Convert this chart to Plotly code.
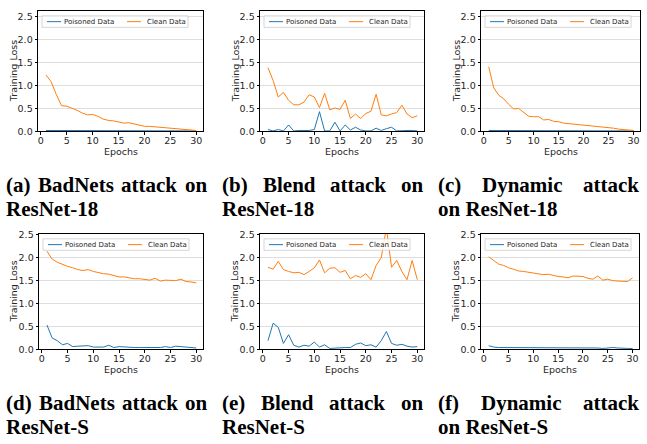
import plotly.graph_objects as go

# ---------------- data ----------------
epochs = list(range(1, 31))

poisoned_a = [0.02, 0.02, 0.01, 0.01, 0.01, 0.01, 0.01, 0.01, 0.01, 0.01, 0.01, 0.01, 0.01, 0.01, 0.01,
              0.01, 0.01, 0.01, 0.01, 0.01, 0.01, 0.01, 0.01, 0.01, 0.01, 0.01, 0.01, 0.01, 0.01, 0.01]
clean_a = [1.23, 1.08, 0.80, 0.56, 0.55, 0.51, 0.46, 0.40, 0.36, 0.37, 0.33, 0.27, 0.24, 0.23, 0.21,
           0.18, 0.19, 0.16, 0.14, 0.11, 0.11, 0.10, 0.09, 0.07, 0.06, 0.05, 0.04, 0.04, 0.03, 0.02]

poisoned_b = [0.04, 0.01, 0.04, 0.01, 0.14, 0.01, 0.02, 0.02, 0.02, 0.04, 0.43, 0.01, 0.01, 0.20, 0.01,
              0.14, 0.03, 0.09, 0.03, 0.01, 0.01, 0.07, 0.02, 0.06, 0.09, 0.01, 0.02, 0.02, 0.02, 0.01]
clean_b = [1.39, 1.11, 0.75, 0.85, 0.68, 0.58, 0.58, 0.64, 0.80, 0.75, 0.52, 0.83, 0.47, 0.51, 0.48,
           0.68, 0.28, 0.38, 0.28, 0.39, 0.44, 0.81, 0.36, 0.34, 0.38, 0.41, 0.57, 0.38, 0.30, 0.34]

poisoned_c = [0.02, 0.02, 0.02, 0.02, 0.02, 0.02, 0.01, 0.01, 0.01, 0.02, 0.02, 0.01, 0.01, 0.01, 0.01,
              0.01, 0.01, 0.01, 0.01, 0.01, 0.01, 0.01, 0.01, 0.01, 0.01, 0.01, 0.01, 0.01, 0.01, 0.01]
clean_c = [1.41, 0.95, 0.79, 0.71, 0.59, 0.49, 0.50, 0.42, 0.33, 0.32, 0.32, 0.25, 0.26, 0.22, 0.21,
           0.18, 0.17, 0.16, 0.15, 0.13, 0.12, 0.11, 0.10, 0.09, 0.08, 0.07, 0.05, 0.04, 0.03, 0.02]

poisoned_d = [0.53, 0.25, 0.19, 0.10, 0.13, 0.06, 0.07, 0.07, 0.08, 0.05, 0.05, 0.05, 0.09, 0.04, 0.06,
              0.05, 0.04, 0.04, 0.04, 0.04, 0.04, 0.04, 0.04, 0.06, 0.04, 0.07, 0.06, 0.05, 0.04, 0.03]
clean_d = [2.14, 1.97, 1.90, 1.85, 1.81, 1.78, 1.74, 1.72, 1.74, 1.70, 1.67, 1.65, 1.64, 1.61, 1.58,
           1.58, 1.56, 1.54, 1.54, 1.53, 1.51, 1.55, 1.49, 1.51, 1.51, 1.50, 1.53, 1.48, 1.47, 1.45]

poisoned_e = [0.19, 0.57, 0.48, 0.13, 0.32, 0.09, 0.05, 0.09, 0.07, 0.16, 0.05, 0.10, 0.02, 0.03, 0.04,
              0.04, 0.04, 0.11, 0.14, 0.08, 0.10, 0.05, 0.19, 0.39, 0.13, 0.09, 0.11, 0.07, 0.05, 0.06]
clean_e = [1.79, 1.75, 1.92, 1.74, 1.70, 1.67, 1.68, 1.63, 1.70, 1.78, 1.95, 1.67, 1.77, 1.78, 1.68,
           1.72, 1.54, 1.61, 1.57, 1.65, 1.52, 1.83, 2.00, 2.65, 1.79, 1.94, 1.70, 1.52, 1.94, 1.52]

poisoned_f = [0.08, 0.05, 0.04, 0.04, 0.04, 0.04, 0.03, 0.04, 0.03, 0.04, 0.04, 0.03, 0.03, 0.04, 0.04,
              0.04, 0.03, 0.04, 0.03, 0.04, 0.03, 0.04, 0.03, 0.02, 0.03, 0.04, 0.03, 0.02, 0.02, 0.02]
clean_f = [2.02, 1.93, 1.86, 1.83, 1.78, 1.75, 1.71, 1.70, 1.68, 1.67, 1.65, 1.63, 1.64, 1.61, 1.59,
           1.58, 1.56, 1.60, 1.59, 1.59, 1.55, 1.53, 1.60, 1.51, 1.53, 1.50, 1.49, 1.48, 1.48, 1.56]

poisoned_series = [poisoned_a, poisoned_b, poisoned_c, poisoned_d, poisoned_e, poisoned_f]
clean_series = [clean_a, clean_b, clean_c, clean_d, clean_e, clean_f]

series_names = ["Poisoned Data", "Clean Data"]
caption_line1 = ["(a) BadNets attack on", "(b) Blend attack on", "(c) Dynamic attack",
                 "(d) BadNets attack on", "(e) Blend attack on", "(f) Dynamic attack"]
caption_line2 = ["ResNet-18", "ResNet-18", "on ResNet-18", "ResNet-S", "ResNet-S", "on ResNet-S"]
x_tick_vals = [0, 5, 10, 15, 20, 25, 30]
y_tick_vals = [0.0, 0.5, 1.0, 1.5, 2.0, 2.5]
x_title = "Epochs"
y_title = "Training Loss"

# ---------------- layout geometry (pixels) ----------------
W, H = 647, 444
frames_x = [(38, 203), (260, 424), (481, 640), (39, 203), (260, 424), (481, 639)]
rows_y = [(6, 129.3), (234.1, 352.3)]
y_ranges = [[0, 2.63], [0, 2.52]]
x_range = [-0.55, 31.3]
cap_x0 = [6, 222, 438]
cap_w = 201
cap_y = [(184.5, 209), (407.5, 432)]

C0, C1 = "#1f77b4", "#ff7f0e"
TICK_FONT = dict(family="DejaVu Sans", size=9.5, color="#262626")
TITLE_FONT = dict(family="DejaVu Sans", size=9.5, color="#262626")
LEG_FONT = dict(family="DejaVu Sans", size=7, color="#262626")
CAP_SIZE = 21
CAP_FONT = dict(family="Liberation Serif", size=CAP_SIZE, color="black", weight="bold")

# Times-Bold advance widths (Liberation Serif Bold is metric compatible)
AFM = {" ": 250, "(": 333, ")": 333, "-": 333, "1": 500, "8": 500,
       "a": 500, "b": 556, "c": 444, "d": 556, "e": 444, "f": 333, "k": 556, "l": 278,
       "m": 833, "n": 556, "o": 500, "s": 389, "t": 333, "y": 500, "i": 278,
       "B": 667, "D": 722, "N": 722, "R": 722, "S": 556}


def text_w(s, size):
    return sum(AFM.get(ch, 500) for ch in s) / 1000.0 * size


fig = go.Figure()
annotations = []
shapes = []

for i in range(6):
    n = "" if i == 0 else str(i + 1)
    row = i // 3
    col = i % 3
    xl, xr = frames_x[i]
    yt, yb = rows_y[row]
    xa, ya = "x" + n, "y" + n

    fig.add_trace(go.Scatter(x=epochs, y=poisoned_series[i], mode="lines", name=series_names[0],
                             line=dict(color=C0, width=1), xaxis=xa, yaxis=ya, showlegend=False))
    fig.add_trace(go.Scatter(x=epochs, y=clean_series[i], mode="lines", name=series_names[1],
                             line=dict(color=C1, width=1), xaxis=xa, yaxis=ya, showlegend=False))

    fig.layout["xaxis" + n] = dict(
        domain=[xl / W, xr / W], anchor=ya, range=x_range, tickvals=x_tick_vals,
        ticks="outside", ticklen=2.5, tickwidth=0.8, tickcolor="black", ticklabelstandoff=-2,
        showline=True, mirror=True, linecolor="black", linewidth=0.8,
        showgrid=False, zeroline=False, tickfont=TICK_FONT)
    fig.layout["yaxis" + n] = dict(
        domain=[1 - yb / H, 1 - yt / H], anchor=xa, range=y_ranges[row], tickvals=y_tick_vals,
        tickformat=".1f", ticks="outside", ticklen=2.5, tickwidth=0.8, tickcolor="black",
        showline=True, mirror=True, linecolor="black", linewidth=0.8,
        showgrid=True, gridcolor="#dedede", gridwidth=0.8, zeroline=False, tickfont=TICK_FONT)

    # axis titles
    annotations.append(dict(text=x_title, xref=xa + " domain", yref=ya + " domain", x=0.5, y=0,
                            xanchor="center", yanchor="middle", yshift=-20.5, showarrow=False,
                            font=TITLE_FONT, borderpad=0, borderwidth=0))
    annotations.append(dict(text=y_title, xref=xa + " domain", yref=ya + " domain", x=0, y=0.5,
                            xanchor="center", yanchor="middle", xshift=-25, textangle=-90,
                            showarrow=False, font=TITLE_FONT, borderpad=0, borderwidth=0))

    # legend (upper left, two columns)
    shapes.append(dict(type="rect", xref=xa + " domain", yref=ya + " domain",
                       xsizemode="pixel", ysizemode="pixel", xanchor=0, yanchor=1,
                       x0=4, x1=150, y0=-5, y1=-16.5,
                       line=dict(color="#cccccc", width=0.8), fillcolor="rgba(255,255,255,0.8)"))
    for k, (col_c, lx0, tx) in enumerate([(C0, 9, 26), (C1, 89, 109)]):
        shapes.append(dict(type="line", xref=xa + " domain", yref=ya + " domain",
                           xsizemode="pixel", ysizemode="pixel", xanchor=0, yanchor=1,
                           x0=lx0, x1=lx0 + 14, y0=-10.8, y1=-10.8,
                           line=dict(color=col_c, width=1)))
        annotations.append(dict(text=series_names[k], xref=xa + " domain", yref=ya + " domain",
                                x=0, y=1, xshift=tx, yshift=-10.8, xanchor="left", yanchor="middle",
                                showarrow=False, font=LEG_FONT, borderpad=0, borderwidth=0))

    # captions (line 1 justified, line 2 left aligned)
    x0 = cap_x0[col]
    words = caption_line1[i].split(" ")
    widths = [text_w(w, CAP_SIZE) for w in words]
    gap = (cap_w - sum(widths)) / (len(words) - 1)
    xp = x0
    y1c, y2c = cap_y[row]
    for w, wd in zip(words, widths):
        annotations.append(dict(text=w, xref="paper", yref="paper", x=xp / W, y=1 - y1c / H,
                                xanchor="left", yanchor="middle", showarrow=False,
                                font=CAP_FONT, borderpad=0, borderwidth=0))
        xp += wd + gap
    annotations.append(dict(text=caption_line2[i], xref="paper", yref="paper", x=x0 / W,
                            y=1 - y2c / H, xanchor="left", yanchor="middle", showarrow=False,
                            font=CAP_FONT, borderpad=0, borderwidth=0))

fig.update_layout(width=W, height=H, margin=dict(l=0, r=0, t=0, b=0),
                  paper_bgcolor="white", plot_bgcolor="white", showlegend=False,
                  annotations=annotations, shapes=shapes)

fig.write_html("out.html")
